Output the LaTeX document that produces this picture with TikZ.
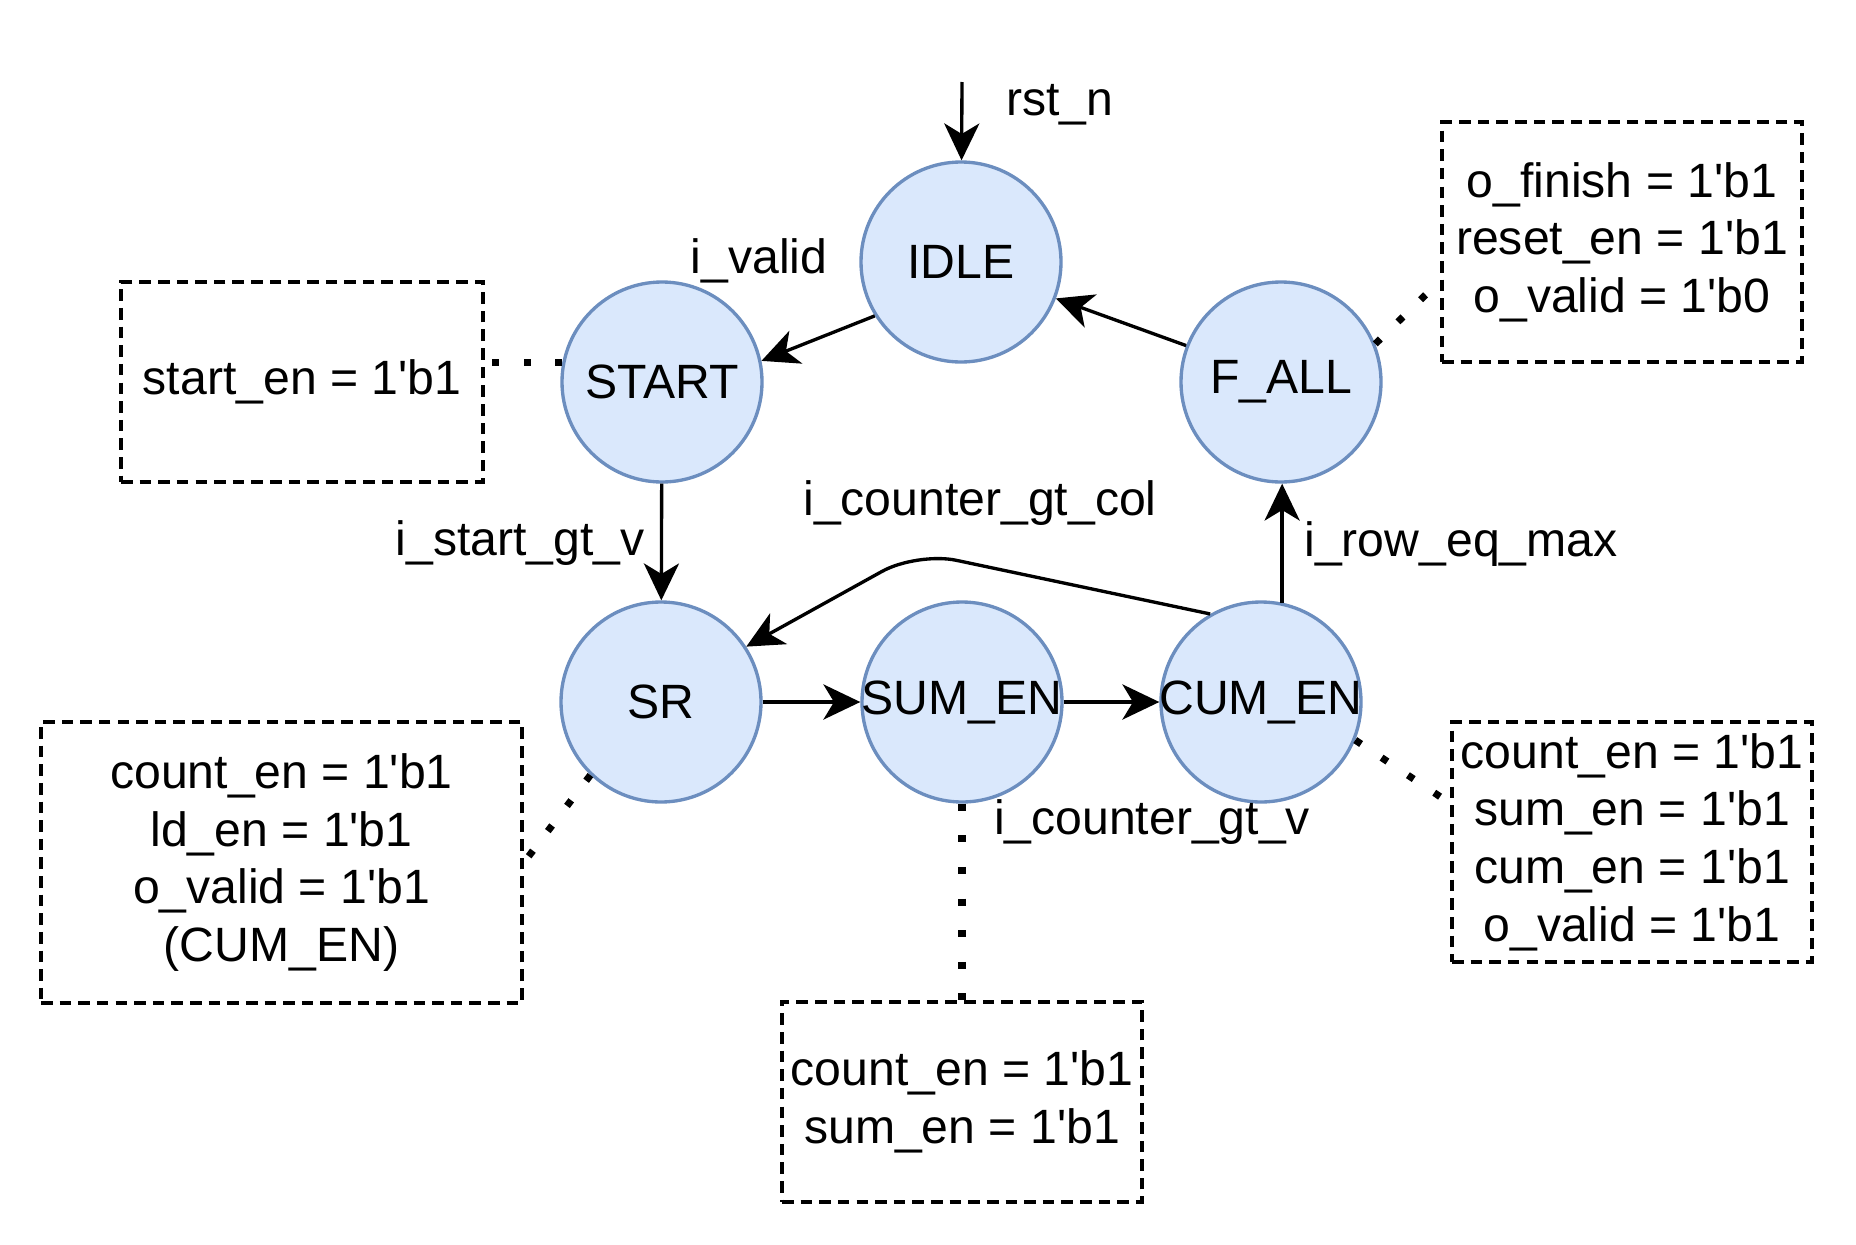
\documentclass[tikz,border=0pt]{standalone}
\usepackage{fontspec}
\setmainfont{Liberation Sans}
\usetikzlibrary{arrows.meta}
\definecolor{stfill}{HTML}{DAE8FC}
\definecolor{stline}{HTML}{6C8EBF}
\newcommand{\bone}{1\textquotesingle b1}
\newcommand{\bzero}{1\textquotesingle b0}
\begin{document}
\begin{tikzpicture}[font=\fontsize{13.7pt}{16.4pt}\selectfont,
    stnode/.style={circle, draw=stline, fill=stfill, line width=0.95pt, minimum size=2cm, inner sep=-2pt},
    outbox/.style={draw, line width=1.1pt, dash pattern=on 3.3pt off 2pt, align=center, inner sep=0pt},
    trans/.style={-{Stealth[length=10.5pt, width=10pt, inset=3pt]}, line width=0.95pt},
    dotlink/.style={line width=2pt, dash pattern=on 2pt off 7pt},
    cond/.style={anchor=base, inner sep=0pt}]
    \useasboundingbox (0,0) rectangle (18.56,-12.44);
    \node[stnode] (idle) at (9.61,-2.62) {IDLE};
    \node[stnode] (start) at (6.62,-3.82) {START};
    \node[stnode] (fall) at (12.81,-3.82) {F\_ALL};
    \node[stnode] (sr) at (6.61,-7.02) {SR};
    \node[stnode] (sum) at (9.62,-7.02) {SUM\_EN};
    \node[stnode] (cum) at (12.61,-7.02) {CUM\_EN};
    \node[outbox, minimum width=3.62cm, minimum height=2cm] (sbox) at (3.02,-3.82) {start\_en = \bone};
    \node[outbox, minimum width=3.6cm, minimum height=2.4cm] (fbox) at (16.22,-2.42) {o\_finish = \bone\\reset\_en = \bone\\o\_valid = \bzero};
    \node[outbox, minimum width=4.81cm, minimum height=2.81cm] (srbox) at (2.815,-8.625) {count\_en = \bone\\ld\_en = \bone\\o\_valid = \bone\\(CUM\_EN)};
    \node[outbox, minimum width=3.6cm, minimum height=2cm] (sumbox) at (9.62,-11.02) {count\_en = \bone\\sum\_en = \bone};
    \node[outbox, minimum width=3.6cm, minimum height=2.4cm] (cbox) at (16.32,-8.42) {count\_en = \bone\\sum\_en = \bone\\cum\_en = \bone\\o\_valid = \bone};
    \node[cond] (lrst) at (10.60,-1.15) {rst\_n};
    \node[cond] (lvalid) at (7.59,-2.73) {i\_valid};
    \node[cond] (lstart) at (5.20,-5.55) {i\_start\_gt\_v};
    \node[cond] (lcol) at (9.80,-5.15) {i\_counter\_gt\_col};
    \node[cond] (lrow) at (14.61,-5.56) {i\_row\_eq\_max};
    \node[cond] (lgtv) at (11.52,-8.34) {i\_counter\_gt\_v};
    \coordinate (rst) at (9.62,-0.82);
    \coordinate (bend) at (9.17,-5.52);
    \draw[trans] (rst) -- (idle);
    \draw[trans] (idle.212) -- (start.12);
    \draw[trans] (fall.159) -- (idle.339);
    \draw[trans] (start) -- (sr);
    \draw[trans] (sr) -- (sum);
    \draw[trans] (sum) -- (cum);
    \draw[trans] (cum.78) -- (cum.78 |- fall.south);
    \draw[trans, rounded corners=0.4cm] (cum.120) -- (bend) -- (sr.33);
    \draw[dotlink] (start.169) -- (start.169 -| sbox.east);
    \draw[dotlink] (fall.22) -- (fbox.192);
    \draw[dotlink] (sr.226) -- (srbox.east);
    \draw[dotlink] (sum.south) -- (sumbox.north);
    \draw[dotlink] (cum.-22) -- (cbox.168);
\end{tikzpicture}
\end{document}
